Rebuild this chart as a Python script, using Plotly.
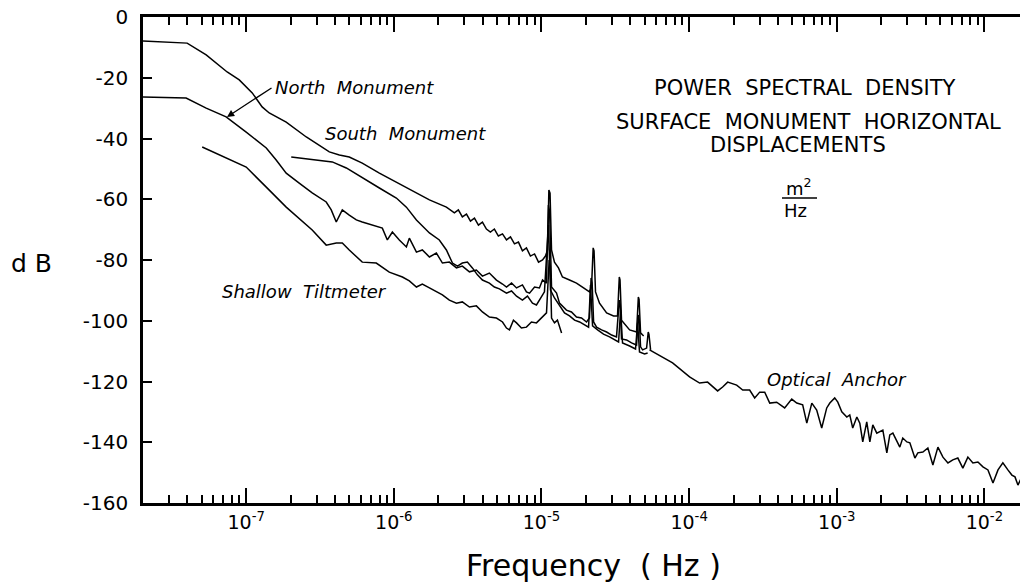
import numpy as np
import plotly.graph_objects as go

# ---- data (log10 of frequency in Hz, power in dB) ----
oa_low_logf = [-7.699, -7.400, -7.271, -7.129, -7.047, -6.959, -6.892, -6.844, -6.729, -6.593,
               -6.437, -6.369, -6.302, -6.214, -6.098, -5.983, -5.875, -5.759, -5.644,
               -5.590, -5.563, -5.536, -5.508, -5.481, -5.454, -5.427, -5.400, -5.373, -5.346,
               -5.319, -5.292, -5.264, -5.237, -5.210, -5.183, -5.156, -5.129, -5.102, -5.075,
               -5.047, -5.020, -4.993, -4.973, -4.959, -4.950, -4.942, -4.932, -4.912, -4.885,
               -4.858, -4.810, -4.763, -4.715, -4.675, -4.661, -4.650, -4.644, -4.634, -4.607,
               -4.559, -4.512, -4.485, -4.473, -4.468, -4.458, -4.403, -4.356, -4.344, -4.339,
               -4.329, -4.308]
oa_low_db = [-7.9, -8.6, -12.5, -18.1, -20.7, -25.0, -29.6, -31.6, -34.6, -39.5,
             -44.4, -45.4, -46.1, -48.1, -51.4, -54.3, -57.0, -60.2, -62.6,
             -64.5, -63.5, -65.8, -64.9, -67.2, -66.2, -68.5, -67.5, -69.8, -70.8,
             -69.8, -72.1, -71.4, -73.4, -72.4, -74.7, -74.1, -77.0, -76.0, -78.7,
             -78.0, -80.7, -80.0, -78.7, -76.7, -57.0, -58.0, -76.7, -80.7, -82.6,
             -85.6, -86.6, -87.6, -89.2, -90.5, -88.9, -76.0, -77.0, -90.5, -94.2,
             -97.4, -98.4, -98.4, -85.6, -86.5, -99.8, -103.0, -103.7, -92.2, -93.0,
             -104.0, -105.0]

oa_high_logf = [-4.268, -4.112, -3.997, -3.929, -3.875, -3.841, -3.807, -3.773, -3.739, -3.678,
                -3.637, -3.590, -3.556, -3.522, -3.488, -3.454, -3.407, -3.353, -3.305, -3.271,
                -3.231, -3.203, -3.169, -3.136, -3.102, -3.068, -3.047, -3.014, -2.993, -2.966,
                -2.932, -2.912, -2.892, -2.864, -2.844, -2.824, -2.797, -2.776, -2.756, -2.729,
                -2.708, -2.688, -2.661, -2.641, -2.620, -2.593, -2.573, -2.553, -2.525, -2.505,
                -2.471, -2.451, -2.417, -2.383, -2.349, -2.315, -2.281, -2.247, -2.214, -2.180,
                -2.146, -2.112, -2.078, -2.044, -2.010, -1.976, -1.942, -1.908, -1.875, -1.841,
                -1.814, -1.793, -1.773, -1.746]
oa_high_db = [-109.6, -113.9, -118.5, -120.5, -120.2, -121.5, -123.1, -121.8, -120.2, -121.2,
              -122.8, -122.8, -125.4, -123.5, -123.5, -127.1, -126.8, -128.7, -125.8, -127.1,
              -127.7, -133.7, -127.1, -129.4, -135.3, -128.7, -127.1, -125.4, -126.8, -130.0,
              -131.7, -131.0, -135.3, -131.7, -133.7, -139.9, -133.3, -139.9, -134.3, -137.0,
              -136.6, -136.0, -143.5, -137.6, -137.0, -139.9, -141.6, -138.6, -139.9, -140.2,
              -145.2, -143.5, -143.2, -141.9, -147.5, -141.6, -144.9, -146.8, -145.8, -145.2,
              -148.5, -144.9, -146.8, -146.5, -148.1, -149.1, -153.4, -149.1, -146.8, -149.1,
              -150.8, -151.4, -154.1, -151.4]

north_logf = [-7.699, -7.407, -7.271, -7.136, -7.000, -6.864, -6.797, -6.729, -6.641, -6.553,
              -6.458, -6.424, -6.390, -6.349, -6.302, -6.254, -6.214, -6.146, -6.078, -6.044,
              -6.010, -5.963, -5.915, -5.895, -5.847, -5.807, -5.759, -5.712, -5.671, -5.624,
              -5.576, -5.536, -5.488, -5.441, -5.400, -5.353, -5.305, -5.264, -5.237, -5.203,
              -5.169, -5.129, -5.102, -5.081, -5.047, -5.014, -4.993, -4.966, -4.953, -4.945,
              -4.932, -4.898, -4.878, -4.831, -4.797, -4.763, -4.729, -4.695, -4.675, -4.664,
              -4.657, -4.647, -4.627, -4.593, -4.559, -4.525, -4.492, -4.473, -4.467, -4.458,
              -4.424, -4.390, -4.356, -4.344, -4.338, -4.329, -4.315, -4.288, -4.277, -4.272,
              -4.261]
north_db = [-26.3, -26.7, -30.0, -32.9, -37.9, -43.1, -47.1, -51.4, -54.7, -57.9,
            -60.9, -63.5, -67.5, -63.5, -65.2, -66.8, -67.5, -68.5, -69.5, -73.4,
            -70.8, -73.4, -75.7, -72.8, -77.4, -76.7, -79.0, -77.7, -81.0, -80.7,
            -82.6, -82.0, -83.9, -83.3, -85.3, -84.3, -86.6, -87.9, -88.9, -87.6,
            -89.2, -88.2, -90.5, -90.9, -88.9, -89.2, -86.6, -87.6, -61.9, -64.0,
            -88.9, -90.9, -94.2, -96.5, -97.1, -98.8, -99.1, -100.4, -99.1, -85.9,
            -87.5, -100.4, -102.1, -103.0, -103.7, -104.7, -105.3, -93.2, -94.5, -106.0,
            -106.3, -107.3, -108.0, -98.1, -99.5, -108.6, -109.6, -109.0, -103.7, -104.5,
            -109.6]

south_logf = [-6.695, -6.417, -6.322, -6.214, -6.098, -5.983, -5.915, -5.847, -5.759, -5.692,
              -5.644, -5.603, -5.569, -5.536, -5.502, -5.468, -5.434, -5.400, -5.353, -5.319,
              -5.285, -5.237, -5.203, -5.169, -5.129, -5.095, -5.061, -5.034, -5.007, -4.980,
              -4.953, -4.939, -4.912, -4.878, -4.844, -4.810, -4.776, -4.742, -4.708, -4.681,
              -4.668, -4.654, -4.620, -4.580, -4.539, -4.505, -4.478, -4.464, -4.451, -4.403,
              -4.363, -4.349, -4.336, -4.302, -4.281]
south_db = [-46.1, -47.7, -49.7, -53.0, -56.3, -59.6, -62.6, -66.8, -71.1, -73.4,
            -76.7, -81.0, -82.0, -81.0, -80.7, -82.6, -84.9, -86.6, -87.6, -88.9,
            -89.5, -90.9, -90.2, -91.9, -93.2, -91.9, -94.2, -94.8, -92.5, -90.5,
            -68.5, -89.9, -92.5, -95.1, -97.4, -98.4, -99.8, -100.4, -101.4, -102.1,
            -88.2, -101.7, -103.0, -104.4, -105.3, -106.3, -107.0, -96.5, -107.3, -108.3,
            -109.3, -100.7, -110.3, -110.9, -110.6]

tilt_logf = [-7.298, -7.000, -6.864, -6.729, -6.553, -6.458, -6.390, -6.349, -6.302, -6.214,
             -6.119, -6.031, -5.942, -5.895, -5.847, -5.807, -5.759, -5.712, -5.671, -5.624,
             -5.576, -5.536, -5.488, -5.441, -5.400, -5.353, -5.305, -5.264, -5.237, -5.217,
             -5.190, -5.169, -5.136, -5.102, -5.068, -5.034, -4.993, -4.966, -4.948, -4.940,
             -4.932, -4.912, -4.892, -4.878, -4.864]
tilt_db = [-42.8, -49.4, -56.0, -62.6, -70.1, -75.1, -74.4, -74.4, -76.7, -80.7,
           -81.0, -84.0, -85.6, -86.9, -88.9, -87.9, -89.2, -90.5, -91.5, -93.2,
           -94.2, -93.8, -95.5, -95.1, -97.1, -98.8, -99.1, -100.4, -102.4, -103.0,
           -99.8, -100.7, -102.4, -102.1, -100.4, -100.7, -98.8, -97.4, -80.0, -82.0,
           -99.1, -100.7, -99.8, -102.1, -104.0]

major_ticks = [1e-7, 1e-6, 1e-5, 1e-4, 1e-3, 1e-2]
major_labels = ["10<sup>-7</sup>", "10<sup>-6</sup>", "10<sup>-5</sup>",
                "10<sup>-4</sup>", "10<sup>-3</sup>", "10<sup>-2</sup>"]
y_ticks = [0, -20, -40, -60, -80, -100, -120, -140, -160]

FONT = "DejaVu Sans"

fig = go.Figure()
for lf, db in [(oa_low_logf, oa_low_db), (oa_high_logf, oa_high_db),
               (north_logf, north_db), (south_logf, south_db), (tilt_logf, tilt_db)]:
    fig.add_trace(go.Scatter(x=10 ** np.array(lf), y=db, mode="lines",
                             line=dict(color="black", width=1.5),
                             hoverinfo="skip", showlegend=False))

minor_vals = [k * 10.0 ** n for n in range(-8, -1) for k in range(2, 10)]

L, T, B = 143, 17, 85
W, H = 1020, 588
PW, PH = W - L, H - T - B

def px(x):
    return (x - L) / PW

def py(y):
    return (H - B - y) / PH

fig.update_layout(
    width=W, height=H,
    margin=dict(l=L, r=0, t=T, b=B),
    plot_bgcolor="white", paper_bgcolor="white",
    font=dict(family=FONT, color="black"),
    xaxis=dict(type="log", range=[np.log10(2e-8), -1.759],
               showline=True, linewidth=2.5, linecolor="black", mirror="ticks",
               ticks="inside", ticklen=15, tickwidth=1.5, tickcolor="black",
               tickvals=major_ticks, ticktext=major_labels,
               tickfont=dict(size=19, family=FONT),
               minor=dict(ticks="inside", ticklen=8, tickwidth=1.5, tickcolor="black",
                          tickvals=minor_vals, showgrid=False),
               showgrid=False, zeroline=False),
    yaxis=dict(range=[-160, 0], showline=True, linewidth=2.5, linecolor="black",
               ticks="inside", ticklen=9, tickwidth=1.5, tickcolor="black",
               tickvals=y_ticks, ticktext=[str(v) for v in y_ticks],
               tickfont=dict(size=20, family=FONT), ticklabelstandoff=8,
               showgrid=False, zeroline=False),
)

NB = "\u00a0"
ann = []
# axis titles
ann.append(dict(text="Frequency" + NB * 2 + "(" + NB + "Hz" + NB + ")", x=px(593), y=py(565),
                font=dict(size=30, family=FONT), xanchor="center", yanchor="middle"))
ann.append(dict(text="d" + NB + "B", x=px(31), y=py(263), font=dict(size=25, family=FONT),
                xanchor="center", yanchor="middle"))
# title block
ann.append(dict(text=("POWER" + NB * 2 + "SPECTRAL" + NB * 2 + "DENSITY"), x=px(805), y=py(88),
                font=dict(size=21, family=FONT), xanchor="center", yanchor="middle"))
ann.append(dict(text=("SURFACE" + NB * 2 + "MONUMENT" + NB * 2 + "HORIZONTAL"), x=px(808), y=py(122),
                font=dict(size=21, family=FONT), xanchor="center", yanchor="middle"))
ann.append(dict(text="DISPLACEMENTS", x=px(798), y=py(145),
                font=dict(size=21, family=FONT), xanchor="center", yanchor="middle"))
ann.append(dict(text="m<sup>2</sup>", x=px(799), y=py(187),
                font=dict(size=18, family=FONT), xanchor="center", yanchor="middle"))
ann.append(dict(text="Hz", x=px(795), y=py(211),
                font=dict(size=18, family=FONT), xanchor="center", yanchor="middle"))
# curve labels
lab_font = dict(size=18, family=FONT, style="italic")
ann.append(dict(text="North" + NB * 2 + "Monument", x=px(273), y=py(88), font=lab_font,
                xanchor="left", yanchor="middle"))
ann.append(dict(text="South" + NB * 2 + "Monument", x=px(323), y=py(133), font=lab_font,
                xanchor="left", yanchor="middle"))
ann.append(dict(text="Shallow" + NB * 2 + "Tiltmeter", x=px(220), y=py(291), font=lab_font,
                xanchor="left", yanchor="middle"))
ann.append(dict(text="Optical" + NB * 2 + "Anchor", x=px(765), y=py(379), font=lab_font,
                xanchor="left", yanchor="middle"))
for a in ann:
    a.update(xref="paper", yref="paper", showarrow=False)
# arrow from label to curve
ann.append(dict(text="", x=px(227), y=py(117), xref="paper", yref="paper",
                showarrow=True, ax=46, ay=-30, arrowhead=2, arrowsize=1.1,
                arrowwidth=1.3, arrowcolor="black"))
fig.update_layout(annotations=ann)

fig.add_shape(type="line", xref="paper", yref="paper", x0=px(782), x1=px(817),
              y0=py(198), y1=py(198), line=dict(color="black", width=1.5))

fig.write_html("out.html", config={"displayModeBar": False},
               post_script="document.body.style.margin='0';document.body.style.overflow='hidden';")
